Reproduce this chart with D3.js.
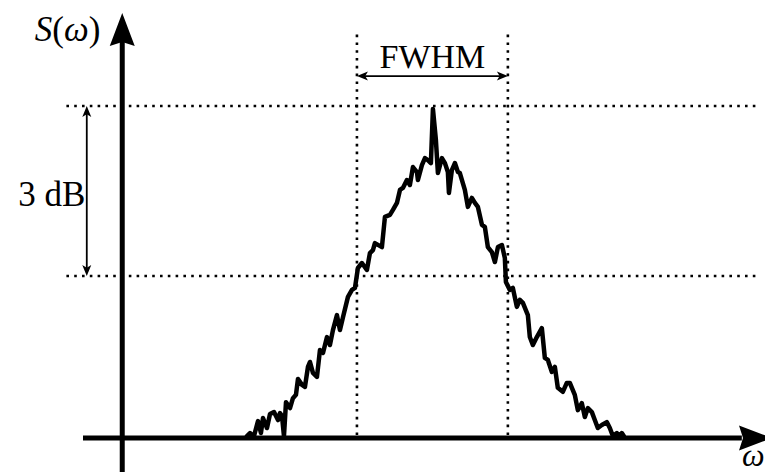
<!DOCTYPE html>
<meta charset="utf-8">
<title>Spectrum FWHM</title>
<style>
  body { margin: 0; background: #fff; }
  text { font-family: "Liberation Serif", "DejaVu Serif", serif; fill: #000; }
  .dotted { stroke: #000; stroke-width: 2.6; stroke-dasharray: 2.6,5.2; fill: none; }
  .spectrum { fill: none; stroke: #000; stroke-width: 4.5; stroke-linejoin: round; stroke-linecap: round; }
</style>
<body>
<script src="https://cdn.jsdelivr.net/npm/d3@7"></script>
<script>
// normalized frequency offset (FWHM edges at -1 and +1)
var omega = [
  -2.457, -2.417, -2.364, -2.311, -2.272, -2.245, -2.192, -2.152, -2.099, -2.046,
  -2.020, -1.993, -1.967, -1.940, -1.887, -1.848, -1.808, -1.781, -1.728, -1.689,
  -1.649, -1.623, -1.583, -1.530, -1.490, -1.450, -1.397, -1.358, -1.318, -1.265,
  -1.225, -1.185, -1.119, -1.066, -1.026, -0.987, -0.934, -0.868, -0.828, -0.788,
  -0.762, -0.669, -0.629, -0.563, -0.523, -0.470, -0.430, -0.391, -0.338, -0.298,
  -0.258, -0.205, -0.192, -0.139, -0.099, -0.060, -0.020, 0.007, 0.046, 0.073,
  0.126, 0.166, 0.205, 0.219, 0.258, 0.298, 0.338, 0.364, 0.430, 0.470,
  0.523, 0.563, 0.603, 0.656, 0.695, 0.735, 0.788, 0.828, 0.868, 0.921,
  0.960, 0.974, 1.026, 1.066, 1.119, 1.159, 1.199, 1.265, 1.291, 1.331,
  1.384, 1.450, 1.490, 1.530, 1.583, 1.623, 1.662, 1.728, 1.781, 1.821,
  1.887, 1.927, 1.980, 2.020, 2.060, 2.113, 2.152, 2.192, 2.245, 2.311,
  2.351, 2.391, 2.444, 2.483, 2.510, 2.536
];
// normalized spectral density (1 = top reference level)
var power = [
  0.006, 0.015, 0.006, 0.051, 0.015, 0.060, 0.030, 0.072, 0.078, 0.054,
  0.075, 0.066, 0.006, 0.108, 0.090, 0.120, 0.130, 0.178, 0.160, 0.154,
  0.214, 0.229, 0.196, 0.184, 0.265, 0.256, 0.304, 0.280, 0.325, 0.370,
  0.325, 0.364, 0.425, 0.446, 0.452, 0.512, 0.527, 0.506, 0.557, 0.566,
  0.587, 0.575, 0.666, 0.672, 0.687, 0.708, 0.747, 0.753, 0.777, 0.762,
  0.816, 0.801, 0.777, 0.822, 0.843, 0.837, 0.828, 0.991, 0.898, 0.798,
  0.843, 0.828, 0.801, 0.738, 0.807, 0.828, 0.801, 0.798, 0.747, 0.696,
  0.723, 0.708, 0.696, 0.642, 0.636, 0.575, 0.560, 0.530, 0.575, 0.581,
  0.542, 0.470, 0.446, 0.452, 0.395, 0.416, 0.407, 0.370, 0.304, 0.280,
  0.304, 0.331, 0.241, 0.235, 0.199, 0.214, 0.151, 0.139, 0.166, 0.166,
  0.130, 0.084, 0.105, 0.063, 0.090, 0.078, 0.054, 0.030, 0.039, 0.048,
  0.030, 0.006, 0.015, 0.006, 0.015, 0.006
];
var levels = [1.0, 0.488];      // top level and -3 dB level
var fwhmEdges = [-1, 1];
var labels = { yAxis: "S(ω)", xAxis: "ω", fwhm: "FWHM", db: "3 dB" };

var width = 765, height = 472;

var x = d3.scaleLinear().domain([-4.63, 4.5]).range([83, 772]);
var y = d3.scaleLinear().domain([0, 1.28]).range([438, 13]);
var yAxisAt = -4.11;

var svg = d3.select("body").append("svg")
    .attr("width", width)
    .attr("height", height);

// dotted reference lines
svg.selectAll(".hlevel")
    .data(levels)
  .enter().append("line")
    .attr("class", "dotted")
    .attr("x1", x(-4.85)).attr("x2", x(4.32))
    .attr("y1", function(d) { return y(d); })
    .attr("y2", function(d) { return y(d); });

svg.selectAll(".vlevel")
    .data(fwhmEdges)
  .enter().append("line")
    .attr("class", "dotted")
    .attr("x1", function(d) { return x(d); })
    .attr("x2", function(d) { return x(d); })
    .attr("y1", y(1.215)).attr("y2", y(0));

// axes
svg.append("line")
    .attr("x1", x(-4.63)).attr("x2", x(4.1))
    .attr("y1", y(0)).attr("y2", y(0))
    .attr("stroke", "#000").attr("stroke-width", 5);
svg.append("line")
    .attr("x1", x(yAxisAt)).attr("x2", x(yAxisAt))
    .attr("y1", y(-0.11)).attr("y2", y(1.2))
    .attr("stroke", "#000").attr("stroke-width", 5);

// big arrowheads
var ax = x(yAxisAt), ay = y(1.28);
svg.append("path")
    .attr("d", "M" + ax + "," + ay + "L" + (ax + 12.5) + "," + (ay + 33) +
               "L" + ax + "," + (ay + 29) + "L" + (ax - 12.5) + "," + (ay + 33) + "Z")
    .attr("fill", "#000");
var bx = x(4.5), by = y(0);
svg.append("path")
    .attr("d", "M" + bx + "," + by + "L" + (bx - 33) + "," + (by - 12.5) +
               "L" + (bx - 29) + "," + by + "L" + (bx - 33) + "," + (by + 12.5) + "Z")
    .attr("fill", "#000");

// the measured spectrum
var pts = omega.map(function(d, i) { return [d, power[i]]; });
var line = d3.line()
    .x(function(d) { return x(d[0]); })
    .y(function(d) { return y(d[1]); });
svg.append("path")
    .datum(pts)
    .attr("class", "spectrum")
    .attr("d", line);

// small double arrows
function doubleArrow(x1, y1, x2, y2) {
  var g = svg.append("g");
  var len = Math.hypot(x2 - x1, y2 - y1), ux = (x2 - x1) / len, uy = (y2 - y1) / len;
  var px = -uy, py = ux, h = 11, w = 4.5;
  g.append("line")
      .attr("x1", x1 + ux * 4).attr("y1", y1 + uy * 4)
      .attr("x2", x2 - ux * 4).attr("y2", y2 - uy * 4)
      .attr("stroke", "#000").attr("stroke-width", 1.8);
  [[x1, y1, 1], [x2, y2, -1]].forEach(function(e) {
    var tx = e[0], ty = e[1], s = e[2];
    var bx = tx + s * ux * h, byy = ty + s * uy * h;
    g.append("path")
        .attr("d", "M" + tx + "," + ty +
                   "L" + (bx + px * w) + "," + (byy + py * w) +
                   "L" + (tx + s * ux * h * 0.75) + "," + (ty + s * uy * h * 0.75) +
                   "L" + (bx - px * w) + "," + (byy - py * w) + "Z")
        .attr("fill", "#000");
  });
}
doubleArrow(x(-1), y(1.09), x(1), y(1.09));
doubleArrow(x(-4.58), y(levels[0]), x(-4.58), y(levels[1]));

// labels
svg.append("text")
    .attr("x", (x(-1) + x(1)) / 2).attr("y", y(1.115))
    .attr("text-anchor", "middle")
    .style("font-size", "34px")
    .text(labels.fwhm);

svg.append("text")
    .attr("x", x(-4.6)).attr("y", y(0.70))
    .attr("text-anchor", "end")
    .style("font-size", "35px")
    .text(labels.db);

var yl = svg.append("text")
    .attr("x", x(-4.4)).attr("y", y(1.195))
    .attr("text-anchor", "end")
    .style("font-size", "35px");
yl.append("tspan").style("font-style", "italic").text("S");
yl.append("tspan").text("(");
yl.append("tspan").style("font-style", "italic").text("ω");
yl.append("tspan").text(")");

svg.append("text")
    .attr("x", 742).attr("y", 466)
    .style("font-size", "32px")
    .style("font-style", "italic")
    .text(labels.xAxis);
</script>
</body>
